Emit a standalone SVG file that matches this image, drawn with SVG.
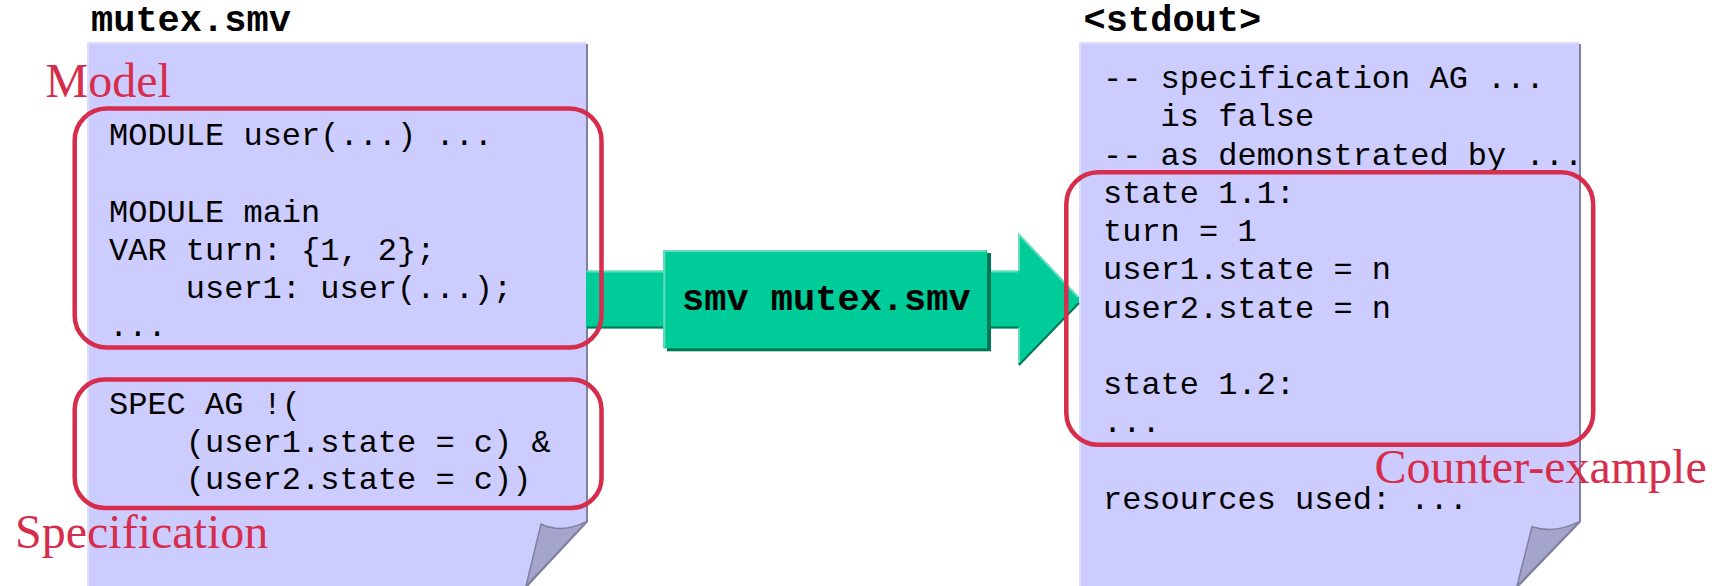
<svg xmlns="http://www.w3.org/2000/svg" width="1723" height="586" viewBox="0 0 1723 586">
  <style>
    .page { fill: #ccccff; }
    .pageEdgeLight { stroke: #dcdcff; stroke-width: 2; fill: none; }
    .pageEdgeDark { stroke: #80809f; stroke-width: 2; fill: none; }
    .flap { fill: #a4a4cc; stroke: #80809f; stroke-width: 1.5; }
    .code { font-family: "Liberation Mono", "Courier New", monospace; font-size: 32px; fill: #000; }
    .title { font-family: "Liberation Mono", "Courier New", monospace; font-size: 37px; font-weight: bold; fill: #000; }
    .hl { fill: none; stroke: #d62d4c; stroke-width: 4.5; }
    .hlLabel { font-family: "Liberation Serif", "Times New Roman", serif; font-size: 48px; fill: #d62d4c; }
    .green { fill: #00cc99; }
    .lightEdge { stroke: #66ddbb; stroke-width: 2; fill: none; }
    .darkEdge { stroke: #007755; stroke-width: 2; fill: none; }
  </style>

  <rect width="1723" height="586" fill="#ffffff"/>

  <!-- input file: mutex.smv -->
  <g id="mutex-smv">
    <text class="title" x="91" y="31">mutex.smv</text>
    <path class="page" d="M88,42 H586 V521.7 L526,586 H88 Z"/>
    <path class="pageEdgeLight" d="M88,586 V43 H585"/>
    <path class="pageEdgeDark" d="M587,44 V521.7 L527,586"/>
    <path class="flap" d="M586.4,521.7 Q562,534 541,524 L526,586 Z"/>
    <text class="code" x="109" y="145">MODULE user(...) ...</text>
    <text class="code" x="109" y="221.5">MODULE main</text>
    <text class="code" x="109" y="259.7">VAR turn: {1, 2};</text>
    <text class="code" x="185.8" y="297.9">user1: user(...);</text>
    <text class="code" x="109" y="336.1">...</text>
    <text class="code" x="109" y="414.3">SPEC AG !(</text>
    <text class="code" x="185.8" y="451.8">(user1.state = c) &amp;</text>
    <text class="code" x="185.8" y="489.3">(user2.state = c))</text>
  </g>

  <!-- output stream: <stdout> -->
  <g id="stdout">
    <text class="title" x="1083.6" y="31">&lt;stdout&gt;</text>
    <path class="page" d="M1080,42 H1579 V521.7 L1517,586 H1080 Z"/>
    <path class="pageEdgeLight" d="M1080,586 V43 H1578"/>
    <path class="pageEdgeDark" d="M1580,44 V521.7 L1518,586"/>
    <path class="flap" d="M1579.3,521.7 Q1555,534 1532,526.7 L1517,586 Z"/>
    <text class="code" x="1103" y="88">-- specification AG ...</text>
    <text class="code" x="1160.6" y="126.3">is false</text>
    <text class="code" x="1103" y="164.5">-- as demonstrated by ...</text>
    <text class="code" x="1103" y="202.8">state 1.1:</text>
    <text class="code" x="1103" y="241">turn = 1</text>
    <text class="code" x="1103" y="279.3">user1.state = n</text>
    <text class="code" x="1103" y="317.5">user2.state = n</text>
    <text class="code" x="1103" y="394">state 1.2:</text>
    <text class="code" x="1103" y="432.3">...</text>
    <text class="code" x="1103" y="508.8">resources used: ...</text>
  </g>

  <!-- connector: the smv run, drawn as a block arrow -->
  <g id="connectors">
    <g id="run-arrow">
      <rect class="green" x="586" y="270.7" width="434" height="57.6"/>
      <line class="lightEdge" x1="587" y1="271.5" x2="1018" y2="271.5"/>
      <line class="darkEdge" x1="587" y1="327.5" x2="1018" y2="327.5"/>
      <polygon class="green" points="1018,233.3 1079,297 1079,303 1018,365"/>
      <path class="lightEdge" d="M1019,271 V234.5 L1078,297"/>
      <path class="lightEdge" d="M1019,328 V363"/>
      <path class="darkEdge" d="M1079,303 L1019,365"/>
    </g>
    <g id="run-label">
      <rect x="667" y="253" width="324" height="98.3" fill="#007755"/>
      <rect class="green" x="663.3" y="250" width="323.7" height="98.3"/>
      <path class="lightEdge" d="M664.3,347.3 V251 H986"/>
      <text class="title" x="682" y="310">smv mutex.smv</text>
    </g>
  </g>

  <!-- highlighted regions with their captions -->
  <g id="model">
    <rect class="hl" x="74.7" y="108.5" width="526.8" height="239" rx="32" ry="32"/>
    <text class="hlLabel" x="45.5" y="96.7">Model</text>
  </g>
  <g id="specification">
    <rect class="hl" x="74.7" y="379.5" width="526.8" height="128.5" rx="30" ry="30"/>
    <text class="hlLabel" x="15" y="548">Specification</text>
  </g>
  <g id="counter-example">
    <rect class="hl" x="1066.3" y="172.3" width="526.9" height="272.5" rx="32" ry="32"/>
    <text class="hlLabel" x="1374.5" y="483.3">Counter-example</text>
  </g>
</svg>
